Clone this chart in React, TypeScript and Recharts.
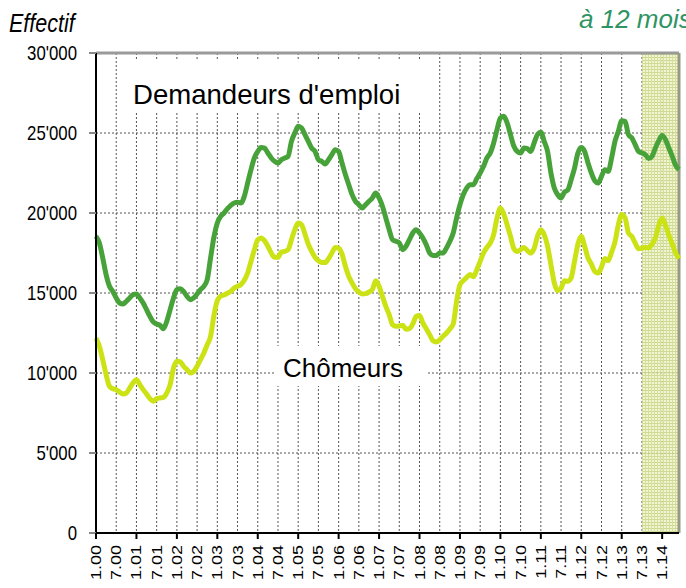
import React from "react";
import {
  CartesianGrid,
  Line,
  LineChart,
  ReferenceArea,
  ReferenceLine,
  XAxis,
  YAxis,
} from "recharts";

// tick labels, one every 6 months (Jan / Jul)
const tickLabels = [
  "1.00", "7.00", "1.01", "7.01", "1.02", "7.02", "1.03", "7.03", "1.04", "7.04",
  "1.05", "7.05", "1.06", "7.06", "1.07", "7.07", "1.08", "7.08", "1.09", "7.09",
  "1.10", "7.10", "1.11", "7.11", "1.12", "7.12", "1.13", "7.13", "1.14",
];

const yTicks = [0, 5000, 10000, 15000, 20000, 25000, 30000];

// monthly values, Jan 2000 -> Jun 2014
const demandeurs = [
  18540, 18125, 17190, 16150, 15420, 15100, 14690, 14375, 14310, 14480, 14690, 14900,
  14940, 14690, 14375, 13960, 13540, 13190, 13060, 12980, 12770, 13230, 13960, 14690,
  15210, 15270, 15100, 14790, 14580, 14690, 14940, 15210, 15420, 15830, 17190, 18500,
  19375, 19790, 20000, 20270, 20480, 20625, 20670, 20625, 21040, 21875, 22710, 23440,
  23850, 24100, 24060, 23750, 23440, 23230, 23125, 23330, 23440, 23540, 24480, 25000,
  25420, 25310, 24900, 24480, 24060, 23850, 23330, 23230, 23060, 23330, 23650, 23960,
  23850, 23125, 22400, 21770, 21150, 20730, 20520, 20310, 20520, 20730, 20940, 21250,
  20940, 20420, 19690, 18960, 18330, 18230, 18125, 17710, 17920, 18330, 18750, 18960,
  18750, 18440, 18020, 17500, 17350, 17350, 17500, 17500, 17810, 18230, 18750, 19690,
  20520, 21150, 21560, 21770, 21770, 22150, 22500, 22920, 23440, 23750, 24375, 25210,
  25940, 26040, 25625, 24900, 24170, 23850, 23750, 24060, 24020, 23850, 24375, 24900,
  25050, 24480, 23850, 22500, 21560, 21150, 20940, 21310, 21440, 22080, 22810, 23750,
  24100, 23850, 23125, 22500, 22020, 21875, 22290, 22710, 22600, 23440, 24480, 25100,
  25770, 25730, 24900, 24690, 24270, 23850, 23750, 23650, 23400, 23540, 24060, 24520,
  24850, 24580, 24060, 23540, 22980, 22710,
];

const chomeurs = [
  12190, 11670, 10830, 9900, 9170, 9020, 8960, 8810, 8690, 8750, 9060, 9380,
  9580, 9270, 8960, 8690, 8400, 8230, 8400, 8440, 8480, 8750, 9270, 10310,
  10730, 10690, 10420, 10210, 10000, 10100, 10420, 10830, 11250, 11770, 12290, 13600,
  14520, 14810, 14875, 14980, 15100, 15310, 15420, 15520, 15790, 16250, 16980, 17710,
  18330, 18440, 18270, 17920, 17500, 17230, 17230, 17560, 17600, 17710, 18330, 18960,
  19375, 19270, 18690, 18060, 17600, 17230, 17020, 16900, 16900, 17150, 17500, 17850,
  17810, 17440, 16670, 16040, 15625, 15270, 15060, 14940, 14960, 15060, 15210, 15770,
  15420, 14790, 14170, 13650, 13020, 12920, 12940, 12980, 12730, 12770, 13060, 13540,
  13600, 13125, 12770, 12400, 12020, 11940, 12080, 12300, 12500, 12750, 13060, 14480,
  15520, 15770, 15980, 16150, 16020, 16460, 16980, 17500, 17850, 18125, 18650, 19690,
  20310, 19940, 19270, 18540, 17770, 17600, 17710, 17850, 17650, 17500, 17770, 18540,
  18960, 18650, 17920, 16770, 15625, 15150, 15300, 15770, 15730, 15940, 16980, 18060,
  18540, 17920, 17190, 16810, 16350, 16250, 16620, 17150, 17020, 17560, 18190, 19270,
  19900, 19690, 18750, 18540, 18125, 17770, 17810, 17850, 17810, 18060, 18440, 19230,
  19690, 19230, 18600, 18060, 17500, 17150,
];

const data = demandeurs.map((d, i) => ({ m: i, dem: d, cho: chomeurs[i] }));
const xTicks = tickLabels.map((_, i) => i * 6);
const lastMonth = demandeurs.length - 1;
const shadeStart = tickLabels.indexOf("7.13") * 6;

const font = "'Liberation Sans', Arial, sans-serif";

function XTick({ x = 0, y = 0, payload }: any) {
  const value = payload?.value ?? 0;
  return (
    <g transform={`translate(${x},${y})`}>
      {value % 12 === 0 && <line x1={0} x2={0} y1={0} y2={6} stroke="#000" strokeWidth={2} />}
      <text
        transform="translate(0,12) scale(0.78,1) rotate(-90)"
        textAnchor="end"
        dy="0.36em"
        fontSize={18}
        fontFamily={font}
        fill="#000"
      >
        {tickLabels[value / 6]}
      </text>
    </g>
  );
}

function YTick({ x = 0, y = 0, payload }: any) {
  const v = payload?.value ?? 0;
  const label = v === 0 ? "0" : `${v / 1000}'000`;
  return (
    <text
      transform={`translate(${x},${y}) scale(0.84,1)`}
      textAnchor="end"
      dy="0.36em"
      fontSize={20}
      fontFamily={font}
      fill="#000"
    >
      {label}
    </text>
  );
}

export default function App() {
  return (
    <div style={{ position: "absolute", left: 0, top: 0, width: 686, height: 588, overflow: "hidden", background: "#fff" }}>
      <svg width={0} height={0} style={{ position: "absolute" }}>
        <defs>
          <pattern id="hatch" width={3} height={3} patternUnits="userSpaceOnUse">
            <rect width={3} height={3} fill="#eef3cc" />
            <line x1={0} y1={0.5} x2={3} y2={0.5} stroke="#c3d27a" strokeWidth={1} />
            <line x1={0.5} y1={0} x2={0.5} y2={3} stroke="#cbd98a" strokeWidth={1} />
          </pattern>
        </defs>
      </svg>
      <div style={{ position: "absolute", left: 0, top: 0 }}>
        <LineChart width={686} height={588} data={data} margin={{ top: 53, right: 7, left: 0, bottom: 0 }}>
          <CartesianGrid stroke="#555" strokeDasharray="2 2" strokeWidth={1} />
          <ReferenceArea
            x1={shadeStart}
            x2={lastMonth}
            y1={0}
            y2={30000}
            fill="url(#hatch)"
            fillOpacity={0.85}
            stroke="none"
          />
          <XAxis
            dataKey="m"
            type="number"
            domain={[0, lastMonth]}
            ticks={xTicks}
            interval={0}
            height={55}
            tick={XTick}
            tickLine={false}
            tickSize={0}
            tickMargin={0}
            axisLine={{ stroke: "#000", strokeWidth: 2 }}
          />
          <YAxis
            type="number"
            domain={[0, 30000]}
            ticks={yTicks}
            interval={0}
            width={96}
            tick={YTick}
            tickSize={7}
            tickMargin={12}
            tickLine={{ stroke: "#888", strokeWidth: 2 }}
            axisLine={{ stroke: "#000", strokeWidth: 2 }}
          />
          <ReferenceLine y={30000} stroke="#9a9a9a" strokeWidth={3} />
          <ReferenceLine x={lastMonth} stroke="#999a86" strokeWidth={3} />
          <Line
            type="monotone"
            dataKey="dem"
            stroke="#48a23a"
            strokeWidth={5}
            dot={false}
            isAnimationActive={false}
          />
          <Line
            type="monotone"
            dataKey="cho"
            stroke="#cbe214"
            strokeWidth={5}
            dot={false}
            isAnimationActive={false}
          />
        </LineChart>
      </div>
      <svg width={686} height={588} style={{ position: "absolute", left: 0, top: 0, pointerEvents: "none" }}>
        <text x={0} y={0} fontSize={25} fontStyle="italic" fontFamily={font} fill="#000" transform="translate(9,32) scale(0.86,1)">
          Effectif
        </text>
        <text x={0} y={0} fontSize={26} fontStyle="italic" fontFamily={font} fill="#2f9463" transform="translate(579,28)">
          à 12 mois
        </text>
        <rect x={122} y={60} width={300} height={52} fill="#fff" />
        <text x={133} y={104} fontSize={28} fontFamily={font} fill="#000" transform="translate(133,0) scale(0.985,1) translate(-133,0)">
          Demandeurs d'emploi
        </text>
        <rect x={274} y={346} width={152} height={40} fill="#fff" />
        <text x={283} y={377} fontSize={26} fontFamily={font} fill="#000">
          Chômeurs
        </text>
      </svg>
    </div>
  );
}
